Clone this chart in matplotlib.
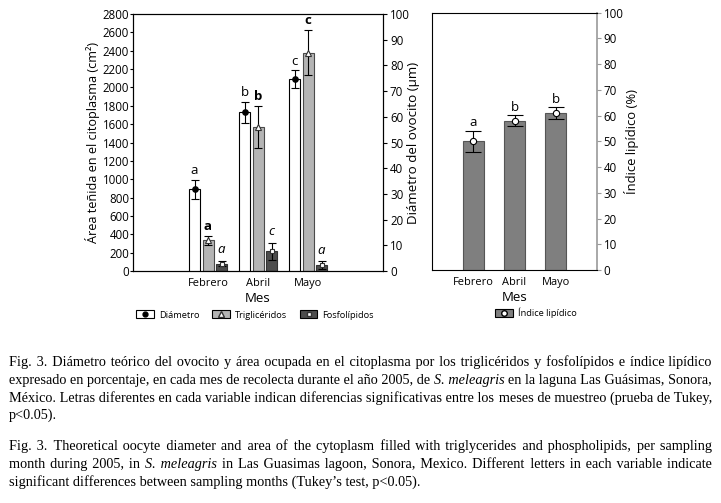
import matplotlib
matplotlib.use("Agg")
import matplotlib.pyplot as plt
from matplotlib.patches import Patch
from matplotlib.lines import Line2D
import numpy as np

# ---------------- data ----------------
months = ["Febrero", "Abril", "Mayo"]
diametro = [31.8, 61.7, 74.7]          # µm (right axis of left panel)
diametro_err = [3.7, 4.2, 3.4]
trigliceridos = [335, 1565, 2380]      # cm² (left axis)
trigliceridos_err = [50, 230, 250]
fosfolipidos = [80, 215, 65]           # cm² (left axis)
fosfolipidos_err = [30, 95, 40]
indice = [50.1, 58.0, 61.0]            # %
indice_err = [4.1, 2.1, 2.2]
letras_diam = ["a", "b", "c"]
letras_trig = ["a", "b", "c"]
letras_fosf = ["a", "c", "a"]
letras_indice = ["a", "b", "b"]
area_ticks = list(range(0, 2801, 200))
pct_ticks = list(range(0, 101, 10))

caption_es = [
    "Fig. 3. Diámetro teórico del ovocito y área ocupada en el citoplasma por los triglicéridos y fosfolípidos e índice lipídico",
    "expresado en porcentaje, en cada mes de recolecta durante el año 2005, de _S. _meleagris en la laguna Las Guásimas, Sonora,",
    "México. Letras diferentes en cada variable indican diferencias significativas entre los meses de muestreo (prueba de Tukey,",
    "p<0.05).",
]
caption_en = [
    "Fig. 3. Theoretical oocyte diameter and area of the cytoplasm filled with triglycerides and phospholipids, per sampling",
    "month during 2005, in _S. _meleagris in Las Guasimas lagoon, Sonora, Mexico. Different letters in each variable indicate",
    "significant differences between sampling months (Tukey’s test, p<0.05).",
]

SANS = "Open Sans"
plt.rcParams["font.family"] = [SANS, "DejaVu Sans"]

W, H = 721, 503
fig = plt.figure(figsize=(W / 100, H / 100), dpi=100)

# ---------------- left panel ----------------
ax1 = fig.add_axes([133 / W, 1 - 271 / H, 250 / W, 257 / H])
ax2 = ax1.twinx()
x = np.arange(1, len(months) + 1)
bw = 0.22
off = 0.27

ax2.bar(x - off, diametro, bw, color="white", edgecolor="black", linewidth=0.8, zorder=2)
ax2.errorbar(x - off, diametro, yerr=diametro_err, fmt="o", color="black", ms=3.8,
             capsize=3, elinewidth=0.8, capthick=0.8, zorder=3)
ax1.bar(x, trigliceridos, bw, color="#b4b4b4", edgecolor="#4a4a4a", linewidth=0.8, zorder=2)
ax1.errorbar(x, trigliceridos, yerr=trigliceridos_err, fmt="^", mfc="white", mec="#333333",
             mew=0.8, ms=4.5, ecolor="black", capsize=3, elinewidth=0.8, capthick=0.8, zorder=3)
ax1.bar(x + off, fosfolipidos, bw, color="#4d4d4d", edgecolor="#333333", linewidth=0.8, zorder=2)
ax1.errorbar(x + off, fosfolipidos, yerr=fosfolipidos_err, fmt="s", mfc="white", mec="#333333",
             mew=0.8, ms=3.5, ecolor="black", capsize=3, elinewidth=0.8, capthick=0.8, zorder=3)

for xi, v, e, l in zip(x - off, diametro, diametro_err, letras_diam):
    ax2.annotate(l, (xi, v + e), xytext=(0, 2), textcoords="offset points",
                 ha="center", va="bottom", fontsize=9.5)
for xi, v, e, l in zip(x, trigliceridos, trigliceridos_err, letras_trig):
    ax1.annotate(l, (xi, v + e), xytext=(0, 2.2), textcoords="offset points",
                 ha="center", va="bottom", fontsize=9.5, fontweight="bold")
for xi, v, e, l in zip(x + off, fosfolipidos, fosfolipidos_err, letras_fosf):
    ax1.annotate(l, (xi, v + e), xytext=(0, 3.5), textcoords="offset points",
                 ha="center", va="bottom", fontsize=9.5, fontstyle="italic")

ax1.set_xlim(-0.5, 4.5)
ax1.set_ylim(0, 2800)
ax2.set_ylim(0, 100)
ax1.set_yticks(area_ticks)
ax2.set_yticks(pct_ticks)
ax1.set_xticks(x)
ax1.set_xticklabels(months, fontsize=7.9)
ax1.tick_params(axis="x", length=0, pad=5)
ax1.tick_params(axis="y", direction="out", length=2, width=0.8, pad=0.8, labelsize=8.3)
ax2.tick_params(axis="y", direction="out", length=3, width=0.8, pad=2, labelsize=8.3)
for sp in list(ax1.spines.values()) + list(ax2.spines.values()):
    sp.set_linewidth(0.8)
ax1.set_ylabel("Área teñida en el citoplasma (cm²)", fontsize=9.1, labelpad=2)
ax2.set_ylabel("Diámetro del ovocito (µm)", fontsize=9.6)
ax2.yaxis.set_label_coords(1.097, 0.5)
ax1.set_xlabel("Mes", fontsize=9.5, labelpad=2)

h_d = (Patch(facecolor="white", edgecolor="black", linewidth=0.8),
       Line2D([], [], marker="o", color="black", ls="none", ms=3.5))
h_t = (Patch(facecolor="#b4b4b4", edgecolor="black", linewidth=0.8),
       Line2D([], [], marker="^", mfc="white", mec="#333333", ls="none", ms=4))
h_f = (Patch(facecolor="#4d4d4d", edgecolor="black", linewidth=0.8),
       Line2D([], [], marker="s", mfc="white", mec="#333333", ls="none", ms=3))
fig.legend([h_d, h_t, h_f], ["Diámetro", "Triglicéridos", "Fosfolípidos"],
           loc="center", bbox_to_anchor=(255 / W, 1 - 315 / H), ncol=3, frameon=False,
           fontsize=6.7, handlelength=1.9, handleheight=0.9, columnspacing=1.4,
           handletextpad=0.5, borderaxespad=0)

# ---------------- right panel ----------------
ax3 = fig.add_axes([432.3 / W, 1 - 270 / H, 164.4 / W, 257.3 / H])
ax3.bar(x, indice, 0.5, color="#7f7f7f", edgecolor="#555555", linewidth=0.8, zorder=2)
ax3.errorbar(x, indice, yerr=indice_err, fmt="o", mfc="white", mec="black", mew=0.8,
             ms=4.5, ecolor="black", capsize=5.5, elinewidth=0.8, capthick=0.8, zorder=3)
for xi, v, e, l in zip(x, indice, indice_err, letras_indice):
    ax3.annotate(l, (xi, v + e), xytext=(0, 1.2), textcoords="offset points",
                 ha="center", va="bottom", fontsize=9.5)
ax3.set_xlim(0, 4)
ax3.set_ylim(0, 100)
ax3.set_xticks(x)
ax3.set_xticklabels(months, fontsize=7.9)
ax3.set_yticks(pct_ticks)
ax3.yaxis.tick_right()
ax3.yaxis.set_label_position("right")
ax3.tick_params(axis="x", length=0, pad=5)
ax3.tick_params(axis="y", direction="out", length=3, width=0.8, pad=2, labelsize=8.3,
                color="#999999")
for sp in ax3.spines.values():
    sp.set_linewidth(0.8)
ax3.spines["right"].set_color("#999999")
ax3.spines["right"].set_linewidth(1.2)
ax3.set_ylabel("Índice lipídico (%)", fontsize=9.4, labelpad=0.5)
ax3.set_xlabel("Mes", fontsize=9.5, labelpad=2)

h_i = (Patch(facecolor="#7f7f7f", edgecolor="black", linewidth=0.8),
       Line2D([], [], marker="o", mfc="white", mec="black", ls="none", ms=4))
fig.legend([h_i], ["Índice lipídico"], loc="center", bbox_to_anchor=(536 / W, 1 - 313 / H),
           frameon=False, fontsize=6.7, handlelength=1.9, handleheight=0.9,
           handletextpad=0.5, borderaxespad=0)

# ---------------- caption (justified) ----------------
renderer = fig.canvas.get_renderer()
CAP_SIZE = 10.3
CAP_FAMILY = ["Liberation Serif", "DejaVu Serif"]
HAIR = "\u200a"


def cap_text(xp, yp, s, italic, ha="left"):
    return fig.text(xp / W, 1 - yp / H, s, fontsize=CAP_SIZE, family=CAP_FAMILY,
                    style="italic" if italic else "normal", ha=ha, va="baseline")


def text_width(s, italic=False):
    t = cap_text(0, 0, s, italic)
    w = t.get_window_extent(renderer=renderer).width
    t.remove()
    return w


SPACE = text_width("a a") - text_width("aa")
HAIR_W = (text_width("a" + HAIR * 20 + "a") - text_width("aa")) / 20


def justified(lines, y_first, dy, x0, x1):
    for i, line in enumerate(lines):
        yp = y_first + i * dy
        segs = []
        for wd in line.split(" "):
            it = wd.startswith("_")
            s = wd[1:] if it else wd
            if segs and segs[-1][0] == it:
                segs[-1][1].append(s)
            else:
                segs.append([it, [s]])
        last = i == len(lines) - 1
        n_words = sum(len(ws) for _, ws in segs)
        if last or n_words == 1:
            xp = x0
            for it, ws in segs:
                t = cap_text(xp, yp, " ".join(ws), it)
                xp += t.get_window_extent(renderer=renderer).width + SPACE
            continue
        natural = sum(text_width(" ".join(ws), it) for it, ws in segs) + SPACE * (len(segs) - 1)
        extra = max(0.0, (x1 - x0) - natural) / (n_words - 1)
        acc = 0.0
        xp = x0
        for k, (it, ws) in enumerate(segs):
            s = ws[0]
            for wnext in ws[1:]:
                acc += extra
                n = max(0, int(round(acc / HAIR_W)))
                acc -= n * HAIR_W
                s += " " + HAIR * n + wnext
            if k == len(segs) - 1 and len(segs) > 1:
                cap_text(x1, yp, s, it, ha="right")
            else:
                t = cap_text(xp, yp, s, it)
                xp += t.get_window_extent(renderer=renderer).width + SPACE + extra + acc
                acc = 0.0


justified(caption_es, 366, 17.7, 9, 712)
justified(caption_en, 450, 17.7, 9, 712)

fig.savefig("out.png", dpi=100)
